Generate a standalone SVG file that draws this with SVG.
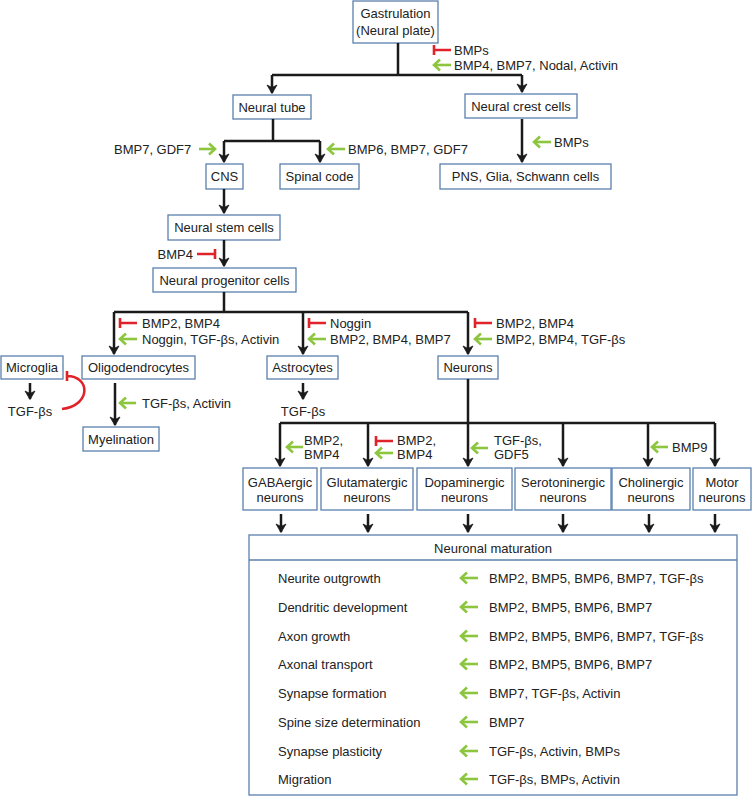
<svg xmlns="http://www.w3.org/2000/svg" width="752" height="796" viewBox="0 0 752 796">
<style>
text{font-family:"Liberation Sans",Arial,Helvetica,sans-serif;font-size:13px;fill:#222}
.c{text-anchor:middle}
.e{text-anchor:end}
.box{fill:#fff;stroke:#5a80ad;stroke-width:1.3}
.ln{fill:none;stroke:#1a1a1a;stroke-width:2.5}
.ar{fill:none;stroke:#1a1a1a;stroke-width:2.5;marker-end:url(#ah)}
.g{fill:none;stroke:#8cc63f;stroke-width:2.6;marker-end:url(#gh)}
.r{fill:none;stroke:#e0232b;stroke-width:2.6}
</style>
<defs>
<marker id="ah" viewBox="-10 -6 12 12" markerWidth="12" markerHeight="12" refX="0" refY="0" orient="auto" markerUnits="userSpaceOnUse">
<path d="M0.5,0 L-8,-5 L-5.5,0 L-8,5 Z" fill="#1a1a1a" stroke="#1a1a1a" stroke-width="0.8" stroke-linejoin="round"/>
</marker>
<marker id="gh" viewBox="-10 -7 12 14" markerWidth="12" markerHeight="14" refX="0" refY="0" orient="auto" markerUnits="userSpaceOnUse">
<path d="M-6,-5.5 L0,0 L-6,5.5" fill="none" stroke="#8cc63f" stroke-width="2.6"/>
</marker>
</defs>

<g id="gastrulation"><rect class="box" x="353" y="1" width="85" height="42"/><text class="c" x="395.5" y="18">Gastrulation</text><text class="c" x="395.5" y="34.5">(Neural plate)</text></g>
<g id="neural-tube"><rect class="box" x="233" y="95" width="78" height="24"/><text class="c" x="272" y="111.5">Neural tube</text></g>
<g id="neural-crest"><rect class="box" x="465" y="94" width="112" height="24"/><text class="c" x="521" y="110.5">Neural crest cells</text></g>
<g id="cns"><rect class="box" x="206" y="164" width="37" height="25"/><text class="c" x="224.5" y="181">CNS</text></g>
<g id="spinal-code"><rect class="box" x="280" y="164" width="79" height="25"/><text class="c" x="319.5" y="181">Spinal code</text></g>
<g id="pns"><rect class="box" x="440" y="164" width="171" height="25"/><text class="c" x="525.5" y="181">PNS, Glia, Schwann cells</text></g>
<g id="nsc"><rect class="box" x="168" y="215" width="112" height="25"/><text class="c" x="224" y="232">Neural stem cells</text></g>
<g id="npc"><rect class="box" x="153" y="268" width="143" height="24"/><text class="c" x="224.5" y="284.5">Neural progenitor cells</text></g>
<g id="microglia"><rect class="box" x="1" y="356" width="62" height="23"/><text class="c" x="32" y="372">Microglia</text></g>
<g id="microglia-tgf"><text class="c" x="30" y="415.5">TGF-βs</text></g>
<g id="oligodendrocytes"><rect class="box" x="82" y="356" width="113" height="23"/><text class="c" x="138.5" y="372">Oligodendrocytes</text></g>
<g id="astrocytes"><rect class="box" x="267" y="356" width="71" height="23"/><text class="c" x="302.5" y="372">Astrocytes</text></g>
<g id="astro-tgf"><text class="c" x="303" y="415.5">TGF-βs</text></g>
<g id="neurons"><rect class="box" x="438" y="356" width="60" height="23"/><text class="c" x="468" y="372">Neurons</text></g>
<g id="myelination"><rect class="box" x="83" y="427" width="76" height="24"/><text class="c" x="121" y="443.5">Myelination</text></g>
<g id="gabaergic"><rect class="box" x="243" y="468" width="74" height="42"/><text class="c" x="280" y="486.5">GABAergic</text><text class="c" x="280" y="501.5">neurons</text></g>
<g id="glutamatergic"><rect class="box" x="321" y="468" width="92" height="42"/><text class="c" x="367" y="486.5">Glutamatergic</text><text class="c" x="367" y="501.5">neurons</text></g>
<g id="dopaminergic"><rect class="box" x="417" y="468" width="95" height="42"/><text class="c" x="464.5" y="486.5">Dopaminergic</text><text class="c" x="464.5" y="501.5">neurons</text></g>
<g id="serotoninergic"><rect class="box" x="515" y="468" width="96" height="42"/><text class="c" x="563" y="486.5">Serotoninergic</text><text class="c" x="563" y="501.5">neurons</text></g>
<g id="cholinergic"><rect class="box" x="612" y="468" width="78" height="42"/><text class="c" x="651" y="486.5">Cholinergic</text><text class="c" x="651" y="501.5">neurons</text></g>
<g id="motor"><rect class="box" x="693" y="468" width="58" height="42"/><text class="c" x="722" y="486.5">Motor</text><text class="c" x="722" y="501.5">neurons</text></g>

<g id="maturation">
<rect class="box" x="249" y="535" width="488" height="260"/>
<line x1="249" y1="560" x2="737" y2="560" stroke="#5a80ad" stroke-width="1.3"/>
<text class="c" x="493" y="552.5">Neuronal maturation</text>
<text x="278" y="582.5">Neurite outgrowth</text><text x="489" y="582.5">BMP2, BMP5, BMP6, BMP7, TGF-βs</text>
<text x="278" y="611.5">Dendritic development</text><text x="489" y="611.5">BMP2, BMP5, BMP6, BMP7</text>
<text x="278" y="640.5">Axon growth</text><text x="489" y="640.5">BMP2, BMP5, BMP6, BMP7, TGF-βs</text>
<text x="278" y="668.5">Axonal transport</text><text x="489" y="668.5">BMP2, BMP5, BMP6, BMP7</text>
<text x="278" y="697.5">Synapse formation</text><text x="489" y="697.5">BMP7, TGF-βs, Activin</text>
<text x="278" y="726.5">Spine size determination</text><text x="489" y="726.5">BMP7</text>
<text x="278" y="755.5">Synapse plasticity</text><text x="489" y="755.5">TGF-βs, Activin, BMPs</text>
<text x="278" y="783.5">Migration</text><text x="489" y="783.5">TGF-βs, BMPs, Activin</text>
</g>

<g id="labels">
<text x="454" y="54.5">BMPs</text>
<text x="454" y="69.5">BMP4, BMP7, Nodal, Activin</text>
<text x="114" y="153.5">BMP7, GDF7</text>
<text x="348" y="153.5">BMP6, BMP7, GDF7</text>
<text x="554" y="146.5">BMPs</text>
<text x="193" y="258.5" class="e">BMP4</text>
<text x="142" y="327.5">BMP2, BMP4</text>
<text x="142" y="343.5">Noggin, TGF-βs, Activin</text>
<text x="330" y="327.5">Noggin</text>
<text x="330" y="343.5">BMP2, BMP4, BMP7</text>
<text x="496" y="327.5">BMP2, BMP4</text>
<text x="496" y="343.5">BMP2, BMP4, TGF-βs</text>
<text x="142" y="407.5">TGF-βs, Activin</text>
<text x="304" y="444.5">BMP2,</text>
<text x="304" y="458.5">BMP4</text>
<text x="397" y="444.5">BMP2,</text>
<text x="397" y="458.5">BMP4</text>
<text x="494" y="444.5">TGF-βs,</text>
<text x="494" y="458.5">GDF5</text>
<text x="672" y="451.5">BMP9</text>
</g>

<g id="connectors">
<path class="ln" d="M398,43 V75 M272,75 H522"/>
<path class="ar" d="M272,75 V93"/>
<path class="ar" d="M522,75 V92"/>
<path class="ln" d="M273,119 V141 M224,141 H320"/>
<path class="ar" d="M224,141 V162"/>
<path class="ar" d="M320,141 V162"/>
<path class="ar" d="M522,119 V162"/>
<path class="ar" d="M224,189 V213"/>
<path class="ar" d="M224,240 V266"/>
<path class="ln" d="M224,292 V312 M114,312 H468"/>
<path class="ar" d="M114,312 V354"/>
<path class="ar" d="M303,312 V354"/>
<path class="ar" d="M468,312 V354"/>
<path class="ar" d="M30,383 V399"/>
<path class="ar" d="M303,383 V399"/>
<path class="ar" d="M115,383 V425"/>
<path class="ln" d="M468,379 V423 M280,423 H715"/>
<path class="ar" d="M280,423 V466"/>
<path class="ar" d="M368,423 V466"/>
<path class="ar" d="M468,423 V466"/>
<path class="ar" d="M563,423 V466"/>
<path class="ar" d="M648,423 V466"/>
<path class="ar" d="M715,423 V466"/>
<path class="ar" d="M281,514 V532"/>
<path class="ar" d="M368,514 V532"/>
<path class="ar" d="M468,514 V532"/>
<path class="ar" d="M563,514 V532"/>
<path class="ar" d="M649,514 V532"/>
<path class="ar" d="M715,514 V532"/>
<path class="g" d="M451,65 H434"/>
<path class="g" d="M199,149 H215"/>
<path class="g" d="M345,149 H328"/>
<path class="g" d="M551,142 H534"/>
<path class="g" d="M137,339 H120"/>
<path class="g" d="M326,339 H309"/>
<path class="g" d="M492,339 H475"/>
<path class="g" d="M136,403 H120"/>
<path class="g" d="M303,447 H287"/>
<path class="g" d="M393,453 H376"/>
<path class="g" d="M488,448 H472"/>
<path class="g" d="M668,447 H652"/>
<path class="g" d="M478,578 H461"/>
<path class="g" d="M478,607 H461"/>
<path class="g" d="M478,636 H461"/>
<path class="g" d="M478,664 H461"/>
<path class="g" d="M478,693 H461"/>
<path class="g" d="M478,722 H461"/>
<path class="g" d="M478,751 H461"/>
<path class="g" d="M478,779 H461"/>
<path class="r" d="M451,50 H434 M434,45 V55"/>
<path class="r" d="M197,254 H215 M215,249 V259"/>
<path class="r" d="M137,323 H120 M120,318 V328"/>
<path class="r" d="M326,323 H309 M309,318 V328"/>
<path class="r" d="M492,323 H475 M475,318 V328"/>
<path class="r" d="M393,441 H376 M376,436 V446"/>
<path class="r" d="M62,409 C92,405 90,376 67,376 M67,371 V381"/>
</g>
</svg>
